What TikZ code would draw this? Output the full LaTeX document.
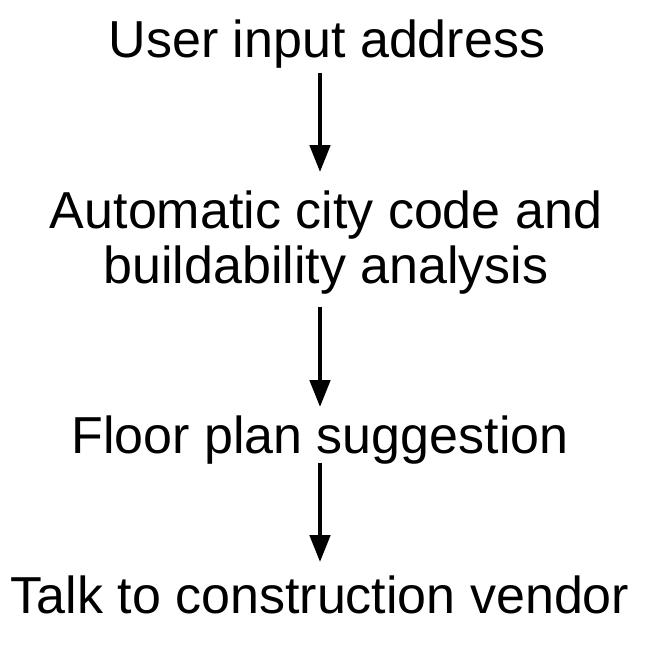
\documentclass[tikz,border=0pt]{standalone}
\usepackage{fontspec}
\setmainfont{Liberation Sans}
\usetikzlibrary{arrows.meta}

\begin{document}
\begin{tikzpicture}[x=1pt,y=-1pt,>={Triangle[length=27pt,width=20pt]},
    stepbox/.style={inner sep=0pt, align=center, font=\fontsize{52pt}{55pt}\selectfont, anchor=base}]
    \useasboundingbox (0,0) rectangle (650,646);
    \coordinate (axis) at (320,0);

    % Steps
    \node[stepbox] (address) at (327,57) {User input address};
    \node[stepbox] (analysis) at (326,283) {Automatic city code and\\buildability analysis};
    \node[stepbox] (plan) at (320,453) {Floor plan suggestion};
    \node[stepbox] (vendor) at (320,613) {Talk to construction vendor};

    % Arrows between steps
    \draw[->, line width=4.5pt] ([yshift=-5pt]address.south -| axis) -- ([yshift=18pt]analysis.north -| axis);
    \draw[->, line width=4.5pt] ([yshift=-13pt]analysis.south -| axis) -- ([yshift=8pt]plan.north -| axis);
    \draw[->, line width=4.5pt] ([yshift=1pt]plan.south -| axis) -- ([yshift=13pt]vendor.north -| axis);
\end{tikzpicture}
\end{document}
